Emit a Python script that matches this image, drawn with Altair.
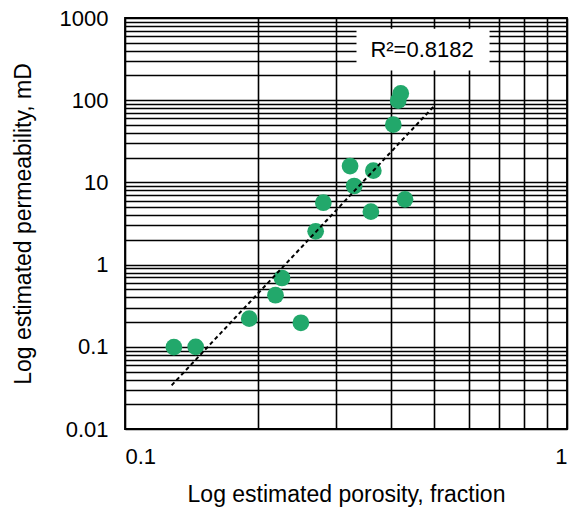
import altair as alt
import pandas as pd

porosity = [0.129, 0.1445, 0.191, 0.250, 0.219, 0.2265, 0.270, 0.281,
            0.323, 0.330, 0.3646, 0.360, 0.430, 0.4046, 0.415, 0.4206]
permeability = [0.099, 0.100, 0.220, 0.196, 0.424, 0.687, 2.54, 5.66,
                15.8, 9.04, 13.9, 4.40, 6.22, 50.4, 98.6, 121]

# Tick / grid values
x_ticks = [0.1, 0.2, 0.3, 0.4, 0.5, 0.6, 0.7, 0.8, 0.9, 1.0]
y_ticks = [m * 10.0 ** e for e in range(-2, 3) for m in range(1, 10)] + [1000.0]

# Trend line extent and annotation
trend_extent = [0.1275, 0.5]
r2_label = ["R\u00b2=0.8182"]
r2_pos_x = [0.47]
r2_pos_y = [410]
r2_box_x = [0.334, 0.668]
r2_box_y = [230, 740]

df = pd.DataFrame({"por": porosity, "perm": permeability})
box_df = pd.DataFrame({"x": [r2_box_x[0]], "x2": [r2_box_x[1]],
                       "y": [r2_box_y[0]], "y2": [r2_box_y[1]]})
lab_df = pd.DataFrame({"x": r2_pos_x, "y": r2_pos_y, "t": r2_label})

FONT = "Liberation Sans"
decade_expr = ("abs(log(datum.value)/LN10 - round(log(datum.value)/LN10)) < 1e-6"
               " ? format(datum.value, '~g') : ''")

xscale = alt.Scale(type="log", domain=[0.1, 1])
yscale = alt.Scale(type="log", domain=[0.01, 1000])

xaxis = alt.Axis(values=x_ticks, labelExpr=decade_expr, title="Log estimated porosity, fraction",
                 grid=True, ticks=False, domain=False, labelPadding=17, titlePadding=16)
yaxis = alt.Axis(values=y_ticks, labelExpr=decade_expr, title="Log estimated permeability, mD",
                 grid=True, ticks=False, domain=False, labelPadding=17, titlePadding=24)

points = alt.Chart(df).mark_circle(size=280, color="#22A86B", opacity=1).encode(
    x=alt.X("por:Q", scale=xscale, axis=xaxis),
    y=alt.Y("perm:Q", scale=yscale, axis=yaxis),
)

trend = alt.Chart(df).transform_regression(
    "por", "perm", method="pow", extent=trend_extent
).mark_line(color="black", strokeDash=[4, 3], strokeWidth=2).encode(
    x=alt.X("por:Q", scale=xscale),
    y=alt.Y("perm:Q", scale=yscale),
)

box = alt.Chart(box_df).mark_rect(fill="white").encode(
    x=alt.X("x:Q", scale=xscale), x2="x2:Q",
    y=alt.Y("y:Q", scale=yscale), y2="y2:Q",
)

label = alt.Chart(lab_df).mark_text(font=FONT, fontSize=22, color="black").encode(
    x=alt.X("x:Q", scale=xscale), y=alt.Y("y:Q", scale=yscale), text="t:N"
)

chart = alt.layer(box, label, points, trend).properties(
    width=442, height=411,
    autosize=alt.AutoSizeParams(type="none"),
    padding={"left": 125, "top": 18, "right": 9, "bottom": 84},
).configure_view(
    stroke="black", strokeWidth=1.8
).configure_axis(
    gridColor="black", gridWidth=1.6, gridOpacity=1,
    labelFont=FONT, labelFontSize=22, labelColor="black",
    titleFont=FONT, titleFontSize=23, titleColor="black", titleFontWeight="normal",
)

chart.save("out.html", embed_options={"renderer": "svg", "actions": False})
